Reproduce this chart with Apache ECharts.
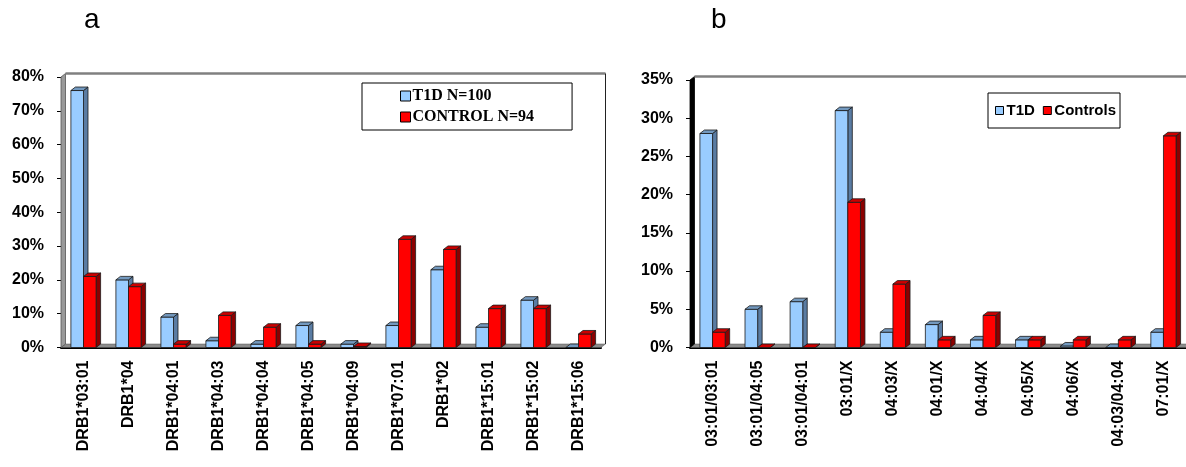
<!DOCTYPE html>
<html><head><meta charset="utf-8">
<script src="https://cdn.jsdelivr.net/npm/echarts@6/dist/echarts.min.js"></script>
<style>html,body{margin:0;padding:0;background:#fff}#c{width:1186px;height:467px}</style>
</head><body><div id="c"></div>
<script>
// ---- data ----
const catsA = ['DRB1*03:01','DRB1*04','DRB1*04:01','DRB1*04:03','DRB1*04:04','DRB1*04:05','DRB1*04:09','DRB1*07:01','DRB1*02','DRB1*15:01','DRB1*15:02','DRB1*15:06'];
const t1dA  = [76, 20, 9, 2, 1, 6.5, 1, 6.5, 23, 6, 14, 0];
const ctrlA = [21, 18, 1, 9.5, 6, 1, 0.3, 32, 29, 11.5, 11.5, 4];
const namesA = ['T1D N=100', 'CONTROL N=94'];

const catsB = ['03:01/03:01','03:01/04:05','03:01/04:01','03:01/X','04:03/X','04:01/X','04:04/X','04:05/X','04:06/X','04:03/04:04','07:01/X'];
const t1dB  = [28, 5, 6, 31, 2, 3, 1, 1, 0.2, 0, 2];
const ctrlB = [2, 0, 0, 19, 8.3, 1, 4.2, 1, 1, 1, 27.7];
const namesB = ['T1D', 'Controls'];

const yMaxA = 80, yStepA = 10;
const yMaxB = 35, yStepB = 5;

// ---- layout ----
const GA = {left: 61, top: 77, width: 540, bottom: 347.5};
const GB = {left: 690, top: 80, width: 496, bottom: 347.5};
const DX = 4.5, DY = 3.5;
const BLUE = {front:'#99CCFF', top:'#7399BF', side:'#5A7CA3'};
const RED  = {front:'#FF0000', top:'#CC0000', side:'#8C0000'};

function bar3d(side, col) {
  return function(params, api) {
    const i = api.value(0), v = api.value(1);
    const p = api.coord([i, v]);
    const b = api.coord([i, 0]);
    const cw = api.size([1, 0])[0];
    const w = cw * 0.28;
    const x0 = side === 0 ? p[0] - w : p[0];
    const x1 = x0 + w;
    const yT = p[1], yB = b[1];
    const ln = {stroke:'#1a1a1a', lineWidth:0.8};
    return {type:'group', children:[
      {type:'polygon', shape:{points:[[x1,yB],[x1,yT],[x1+DX,yT-DY],[x1+DX,yB-DY]]}, style:Object.assign({fill:col.side}, ln)},
      {type:'rect', shape:{x:x0, y:yT, width:w, height:Math.max(0,yB-yT)}, style:Object.assign({fill:col.front}, ln)},
      {type:'polygon', shape:{points:[[x0,yT],[x1,yT],[x1+DX,yT-DY],[x0+DX,yT-DY]]}, style:Object.assign({fill:col.top}, ln)}
    ]};
  };
}

function mkSeries(name, vals, side, col, gi) {
  return {
    type:'custom', name:name, xAxisIndex:gi, yAxisIndex:gi,
    renderItem: bar3d(side, col),
    itemStyle:{color:col.front, borderColor:'#000', borderWidth:1},
    encode:{x:0, y:1},
    data: vals.map((v, i) => [i, v]),
    z: 3
  };
}

function frame(G, wallColor) {
  const L = G.left, R = G.left + G.width, T = G.top, B = G.bottom;
  return [
    {type:'polygon', z:1, shape:{points:[[L,B],[R,B],[R+DX,B-DY],[L+DX,B-DY]]}, style:{fill:'#8c8c8c', stroke:'#555', lineWidth:0.5}},
    {type:'polygon', z:1, shape:{points:[[L,B],[L,T],[L+DX,T-DY],[L+DX,B-DY]]}, style:{fill:wallColor, stroke:wallColor === '#000' ? '#000' : '#555', lineWidth:0.8}},
    {type:'line', z:1, shape:{x1:L+DX, y1:T-DY, x2:R+DX, y2:T-DY}, style:{stroke:'#808080', lineWidth:2.5}},
    {type:'line', z:1, shape:{x1:R+DX, y1:T-DY, x2:R+DX, y2:B-DY}, style:{stroke:'#222', lineWidth:1}}
  ];
}

const axisLabelX = {rotate:90, interval:0, margin:13, color:'#000', fontFamily:'Liberation Sans', fontWeight:'bold', fontSize:16};
const axisLabelY = {color:'#000', fontFamily:'Liberation Sans', fontWeight:'bold', fontSize:16, margin:17, formatter:'{value}%'};

const option = {
  animation:false,
  backgroundColor:'#fff',
  grid:[
    {left:GA.left, top:GA.top, width:GA.width, height:GA.bottom-GA.top, containLabel:false},
    {left:GB.left, top:GB.top, width:GB.width, height:GB.bottom-GB.top, containLabel:false}
  ],
  xAxis:[
    {type:'category', gridIndex:0, data:catsA, axisLine:{lineStyle:{color:'#000', width:2}}, axisTick:{length:5, lineStyle:{color:'#000'}}, axisLabel:axisLabelX},
    {type:'category', gridIndex:1, data:catsB, axisLine:{lineStyle:{color:'#000', width:2}}, axisTick:{length:5, lineStyle:{color:'#000'}}, axisLabel:axisLabelX}
  ],
  yAxis:[
    {type:'value', gridIndex:0, min:0, max:yMaxA, interval:yStepA, splitLine:{show:false}, axisLine:{show:false}, axisTick:{show:true, length:4, lineStyle:{color:'#000'}}, axisLabel:axisLabelY},
    {type:'value', gridIndex:1, min:0, max:yMaxB, interval:yStepB, splitLine:{show:false}, axisLine:{show:false}, axisTick:{show:true, length:4, lineStyle:{color:'#000'}}, axisLabel:axisLabelY}
  ],
  legend:[
    {data:namesA, orient:'vertical', left:362, top:83, padding:[5,38,5,38], itemWidth:10, itemHeight:10, itemGap:5,
     borderColor:'#000', borderWidth:1, icon:'rect', itemStyle:{borderColor:'#000', borderWidth:1},
     textStyle:{fontFamily:'Liberation Serif', fontWeight:'bold', fontSize:16, color:'#000', padding:[0,0,0,-3]}},
    {data:namesB, orient:'horizontal', left:988, top:93, padding:[10,4,10,7], itemWidth:8, itemHeight:8, itemGap:8,
     borderColor:'#000', borderWidth:1, icon:'rect', itemStyle:{borderColor:'#000', borderWidth:1},
     textStyle:{fontFamily:'Liberation Sans', fontWeight:'bold', fontSize:15, color:'#000', padding:[0,0,0,-2]}}
  ],
  graphic:[].concat(frame(GA, '#9a9a9a'), frame(GB, '#000'), [
    {type:'text', left:84, top:6, style:{text:'a', font:'28px "Liberation Sans"', fill:'#000'}},
    {type:'text', left:711, top:6, style:{text:'b', font:'28px "Liberation Sans"', fill:'#000'}}
  ]),
  series:[
    mkSeries(namesA[0], t1dA, 0, BLUE, 0),
    mkSeries(namesA[1], ctrlA, 1, RED, 0),
    mkSeries(namesB[0], t1dB, 0, BLUE, 1),
    mkSeries(namesB[1], ctrlB, 1, RED, 1)
  ]
};
const chart = echarts.init(document.getElementById('c'), null, {renderer:'canvas'});
chart.setOption(option);
</script></body></html>
